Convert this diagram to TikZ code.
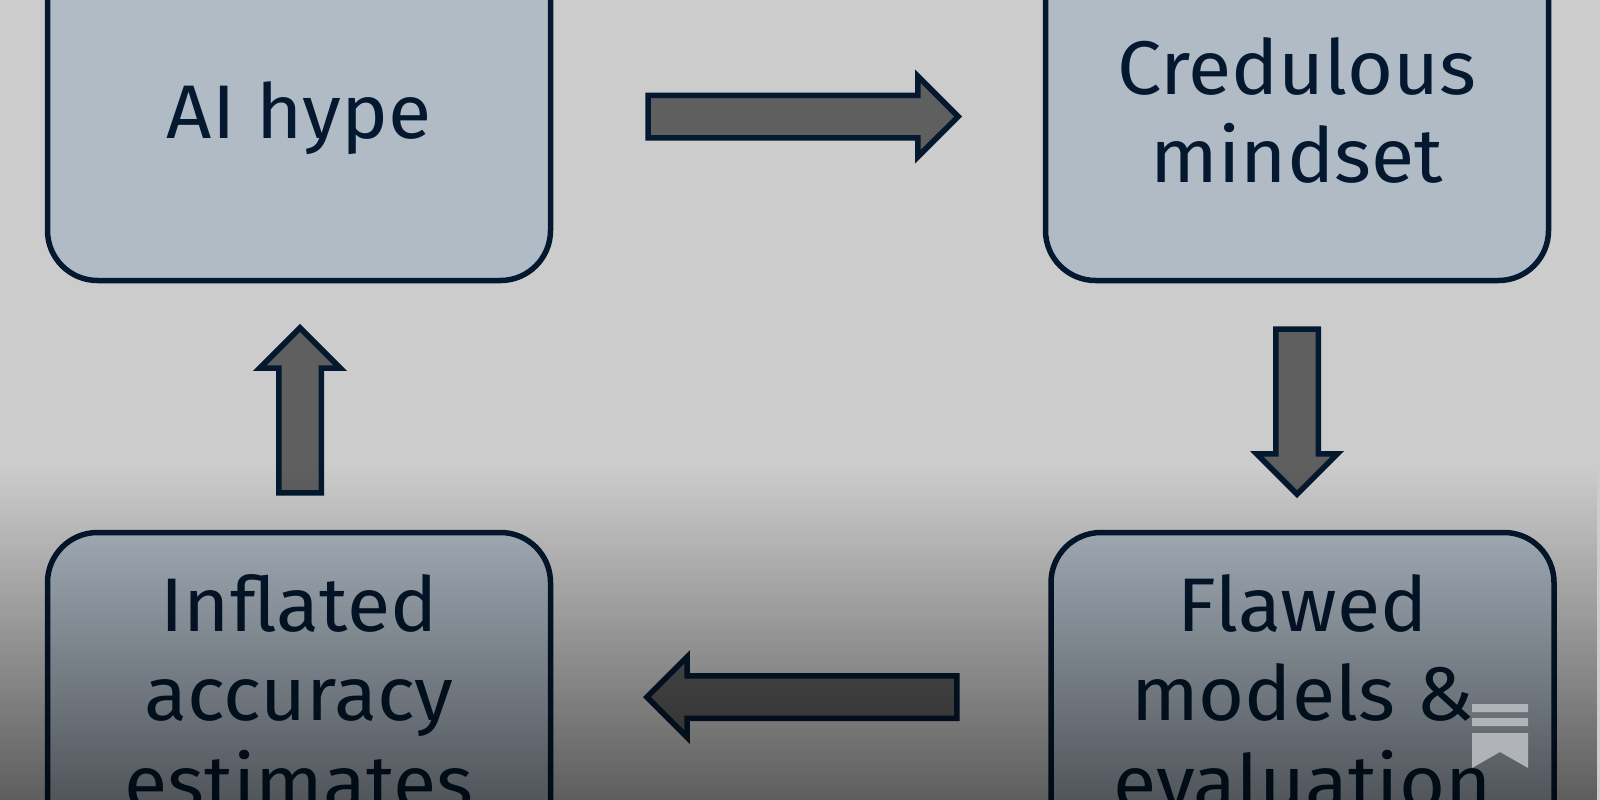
\documentclass[tikz,border=0pt]{standalone}
\usepackage{fontspec}
\setmainfont[FakeStretch=1.04]{Fira Sans}
\usetikzlibrary{shapes.arrows,fadings}
\definecolor{bgc}{HTML}{CCCCCC}
\definecolor{boxc}{HTML}{B0BBC6}
\definecolor{inkc}{HTML}{04192F}
\definecolor{arrc}{HTML}{5F5F5F}
\definecolor{logoc}{HTML}{B0B3B8}
\tikzfading[name=shadefade,top color=transparent!100,bottom color=transparent!46]
\newcommand\liftlines[2]{\raisebox{#1}[0pt][0pt]{\begin{tabular}[t]{@{}c@{}}#2\end{tabular}}}
\tikzset{
  x=1pt,y=-1pt,
  stepbox/.style={draw=inkc,line width=5.5pt,fill=boxc,rounded corners=50pt,minimum width=503pt,minimum height=331pt,
    text=inkc,inner sep=0pt,font=\fontsize{76}{89}\selectfont},
  blockarrow/.style={draw=inkc,line width=5.5pt,fill=arrc,single arrow,single arrow tip angle=90,
    single arrow head extend=19pt,minimum height=310pt,inner xsep=0pt,inner ysep=18.5pt,text width=0pt,outer sep=0pt},
  vblockarrow/.style={blockarrow,minimum height=165pt},
}
\begin{document}
\begin{tikzpicture}
\useasboundingbox (0,0) rectangle (1600,800);
\clip (0,0) rectangle (1600,800);
\fill[bgc] (0,0) rectangle (1600,800);
\node[stepbox] (hype) at (299,115) {\liftlines{-23pt}{AI hype}};
\node[stepbox] (cred) at (1297,115) {\liftlines{21pt}{Credulous\\mindset}};
\node[stepbox] (infl) at (299,698) {\liftlines{67pt}{Inflated\\accuracy\\estimates}};
\node[stepbox] (flaw) at (1302.5,698) {\liftlines{67pt}{Flawed\\models \&\\evaluation}};
\node[blockarrow] (a1) at (792.5,116.5) {};
\node[blockarrow,rotate=180] (a3) at (812.5,697) {};
\node[vblockarrow,rotate=-90] (a2) at (1297,401) {};
\node[vblockarrow,rotate=90] (a4) at (300,421) {};
\fill[black,path fading=shadefade] (0,468) rectangle (1600,800);
\fill[logoc] (1472,704) rectangle (1528,712) (1472,718) rectangle (1528,726)
  (1472,733) -- (1528,733) -- (1528,768) -- (1500,752) -- (1472,768) -- cycle;
\end{tikzpicture}
\end{document}
